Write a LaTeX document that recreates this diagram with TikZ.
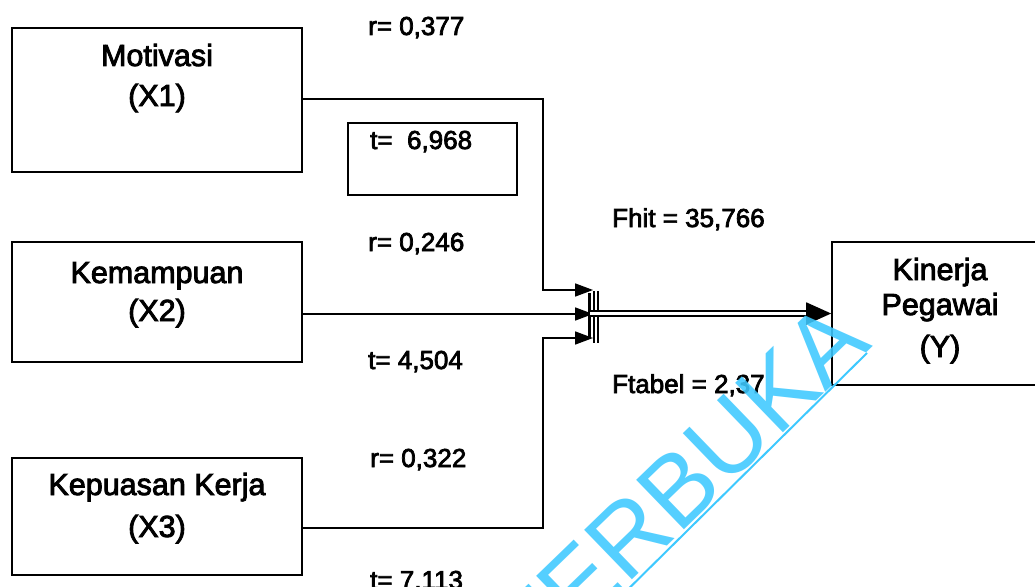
\documentclass[tikz,border=0pt]{standalone}
\usepackage{fontspec}
\setmainfont[FakeBold=2.8]{Liberation Sans}
\newfontfamily\wmfont{Liberation Sans}
\usetikzlibrary{arrows.meta}
\definecolor{wmblue}{RGB}{62,201,255}
\begin{document}
\begin{tikzpicture}[x=1pt,y=-1pt,
  box/.style={draw, line width=1.6pt, inner sep=0pt},
  btxt/.style={font=\fontsize{30.5}{36}\selectfont, anchor=base, inner sep=0pt},
  lbl/.style={font=\fontsize{26}{30}\selectfont, anchor=base west, inner sep=0pt},
  conn/.style={line width=1.6pt},
  inarr/.style={conn, -{Triangle[length=18pt,width=13pt]}},
  bar/.style={line width=1.2pt},
  mainarr/.style={line width=1.8pt, double distance=3pt, -{Triangle[length=25pt,width=22pt]}}
]
\clip (0,0) rectangle (1035,586);
\fill[white] (0,0) rectangle (1035,586);

% boxes
\node[box, minimum width=290pt, minimum height=144pt] (x1) at (157,100) {};
\node[box, minimum width=290pt, minimum height=120pt] (x2) at (157,302) {};
\node[box, minimum width=290pt, minimum height=117pt] (x3) at (157,516.5) {};
\node[box, minimum width=169pt, minimum height=72pt] (tb) at (432.5,159) {};
\node[box, minimum width=216pt, minimum height=143pt] (y) at (940,313.5) {};

% box texts
\node[btxt] (x1a) at (157,66) {Motivasi};
\node[btxt] (x1b) at (157,106) {(X1)};
\node[btxt] (x2a) at (157,283) {Kemampuan};
\node[btxt] (x2b) at (157,321) {(X2)};
\node[btxt] (x3a) at (157,495) {Kepuasan Kerja};
\node[btxt] (x3b) at (157,537) {(X3)};
\node[btxt] (ya) at (940,280) {Kinerja};
\node[btxt] (yb) at (940,315) {Pegawai};
\node[btxt] (yc) at (940,357) {(Y)};

% labels
\node[lbl] (r1) at (368,35) {r= 0,377};
\node[lbl] (t1) at (370,149) {t=~ 6,968};
\node[lbl] (r2) at (368,251) {r= 0,246};
\node[lbl] (t2) at (368,369) {t= 4,504};
\node[lbl] (r3) at (370,467) {r= 0,322};
\node[lbl] (t3) at (370,589) {t= 7,113};
\node[lbl] (fh) at (612,227) {Fhit = 35,766};
\node[lbl] (ft) at (612,393) {Ftabel = 2,37};

% connectors
\coordinate (in1) at (593,290);
\coordinate (in2) at (593,314);
\coordinate (in3) at (593,338);
\coordinate (j1) at (543,99);
\coordinate (j3) at (543,528);
\draw[inarr] (x1.east |- j1) -- (j1) |- (in1);
\draw[inarr] (x2.east |- in2) -- (in2);
\draw[inarr] (x3.east |- j3) -- (j3) |- (in3);

% merge bars
\draw[line width=3pt] (589,293) -- (589,337);
\draw[bar] (594,291) -- (594,343);
\draw[bar] (598,291) -- (598,343);

% main arrow
\coordinate (m) at (590,313.5);
\draw[mainarr] (m) -- (y.west);

% watermark
\node[rotate=44, text=wmblue, text opacity=0.88, font=\wmfont\fontsize{100}{100}\selectfont, anchor=base, inner sep=0pt] (wm) at (704,510) {TERBUKA};
\coordinate (u1) at (600,617);
\coordinate (u2) at (867,353);
\draw[wmblue, line width=2pt] (u1) -- (u2);
\end{tikzpicture}
\end{document}
